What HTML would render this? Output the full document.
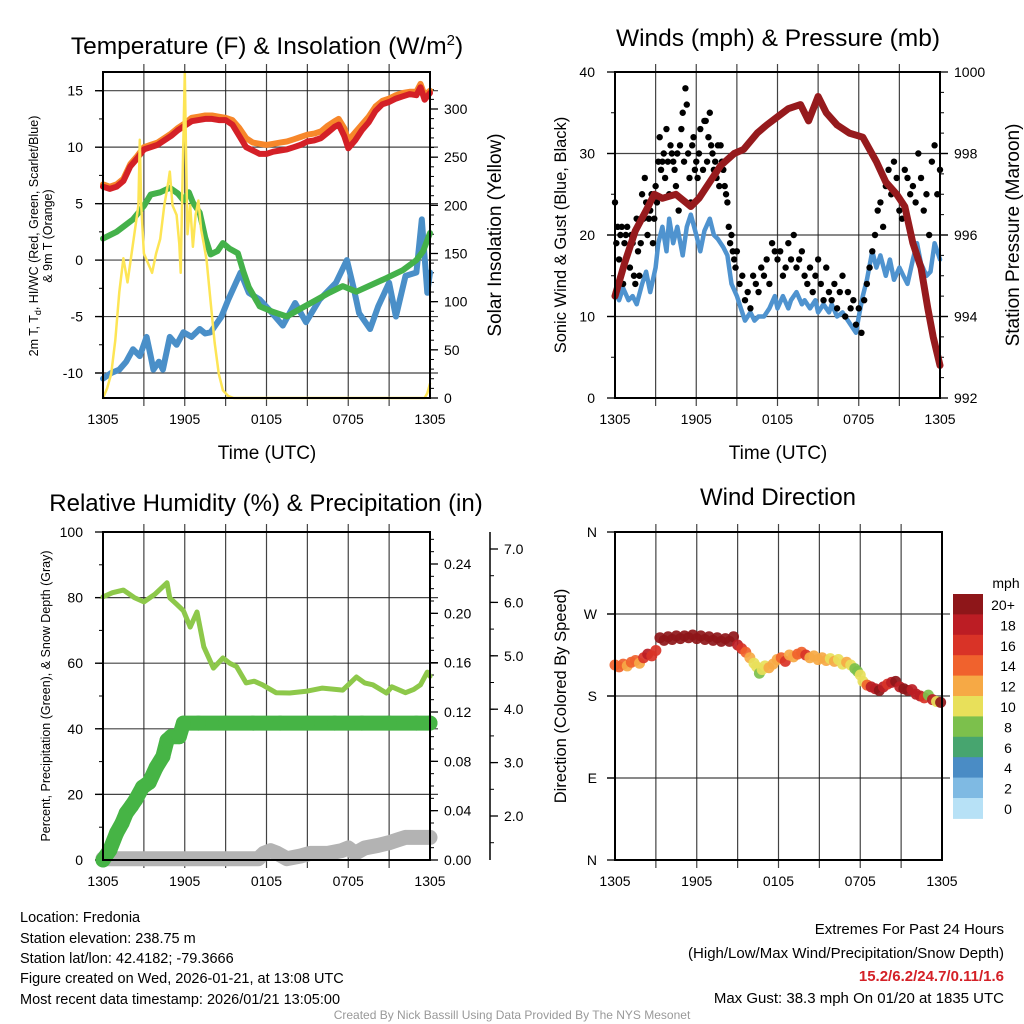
<!DOCTYPE html>
<html><head><meta charset="utf-8">
<style>
html,body{margin:0;padding:0;background:#fff;}
svg{display:block;font-family:"Liberation Sans",sans-serif;}
</style></head>
<body>
<svg id="chart" width="1024" height="1024" viewBox="0 0 1024 1024" xmlns="http://www.w3.org/2000/svg">
<rect x="0" y="0" width="1024" height="1024" fill="#fff"/>
<g id="layer"></g>
<text x="267" y="54" font-size="24.5" text-anchor="middle">Temperature (F) &amp; Insolation (W/m<tspan font-size="15" dy="-9">2</tspan><tspan dy="9">)</tspan></text>
<text x="778" y="46" font-size="24.5" text-anchor="middle">Winds (mph) &amp; Pressure (mb)</text>
<text x="266" y="511" font-size="24" text-anchor="middle">Relative Humidity (%) &amp; Precipitation (in)</text>
<text x="778" y="505" font-size="24" text-anchor="middle">Wind Direction</text>
<text x="267" y="459" font-size="19" text-anchor="middle">Time (UTC)</text>
<text x="778" y="459" font-size="19" text-anchor="middle">Time (UTC)</text>
<text font-size="12.5" text-anchor="middle" transform="translate(38,236) rotate(-90)">2m T, T<tspan font-size="9" dy="3">d</tspan><tspan dy="-3">, HI/WC (Red, Green, Scarlet/Blue)</tspan></text>
<text font-size="12.5" text-anchor="middle" transform="translate(52,236) rotate(-90)">&amp; 9m T (Orange)</text>
<text font-size="19" text-anchor="middle" transform="translate(501,235) rotate(-90)">Solar Insolation (Yellow)</text>
<text font-size="16.5" text-anchor="middle" transform="translate(566,235) rotate(-90)">Sonic Wind &amp; Gust (Blue, Black)</text>
<text font-size="19" text-anchor="middle" transform="translate(1019,235) rotate(-90)">Station Pressure (Maroon)</text>
<text font-size="12.5" text-anchor="middle" transform="translate(50,696) rotate(-90)">Percent, Precipitation (Green), &amp; Snow Depth (Gray)</text>
<text font-size="16.5" text-anchor="middle" transform="translate(566,696) rotate(-90)">Direction (Colored By Speed)</text>
<text x="1006" y="588" font-size="14" text-anchor="middle">mph</text>
<g font-size="14.5">
<text x="20" y="922">Location: Fredonia</text>
<text x="20" y="943">Station elevation: 238.75 m</text>
<text x="20" y="963">Station lat/lon: 42.4182; -79.3666</text>
<text x="20" y="983">Figure created on Wed, 2026-01-21, at 13:08 UTC</text>
<text x="20" y="1004">Most recent data timestamp: 2026/01/21 13:05:00</text>
</g>
<g font-size="15" text-anchor="end">
<text x="1004" y="934">Extremes For Past 24 Hours</text>
<text x="1004" y="958">(High/Low/Max Wind/Precipitation/Snow Depth)</text>
<text x="1004" y="981" fill="#d42027" font-weight="bold">15.2/6.2/24.7/0.11/1.6</text>
<text x="1004" y="1003">Max Gust: 38.3 mph On 01/20 at 1835 UTC</text>
</g>
<text x="512" y="1019" font-size="12" fill="#999" text-anchor="middle">Created By Nick Bassill Using Data Provided By The NYS Mesonet</text>
</svg>
<script>
// ---- data ----
const xTickLabels = ["1305","1905","0105","0705","1305"];
const tempTicks = [-10,-5,0,5,10,15];
const solarTicks = [0,50,100,150,200,250,300];
const windTicks = [0,10,20,30,40];
const presTicks = [992,994,996,998,1000];
const rhTicks = [0,20,40,60,80,100];
const precipTicks = [0.00,0.04,0.08,0.12,0.16,0.20,0.24];
const snowTicks = [2.0,3.0,4.0,5.0,6.0,7.0];
const dirTickLabels = ["N","E","S","W","N"];
const dirTickValues = [0,90,180,270,360];
const speedBins = ["0","2","4","6","8","10","12","14","16","18","20+"];

const t2Hours = [0,0.5,1,1.5,2,2.5,3,3.5,4,4.5,5,5.5,6,6.5,7,7.5,8,8.5,9,9.5,10,10.5,11,11.5,12,12.5,13,13.5,14,14.5,15,15.5,16,16.5,17,17.3,17.7,18,18.5,19,19.5,20,20.5,21,21.5,22,22.5,23,23.3,23.6,24];
const t2Values = [6.5,6.3,6.5,7.0,8.3,9.0,9.8,10.0,10.2,10.6,11.0,11.5,11.9,12.3,12.4,12.5,12.5,12.4,12.4,12.0,11.0,10.0,9.7,9.4,9.4,9.6,9.7,9.8,10.0,10.2,10.5,10.6,10.8,11.3,11.8,12.0,11.0,9.9,10.6,11.5,12.2,13.2,13.8,14.0,14.3,14.5,14.7,14.6,15.3,14.2,14.8];
const t9Values = [6.7,6.5,6.7,7.2,8.5,9.2,10.0,10.2,10.4,10.8,11.2,11.7,12.1,12.6,12.7,12.8,12.8,12.7,12.6,12.4,11.7,10.8,10.4,10.3,10.2,10.3,10.4,10.5,10.7,10.9,11.1,11.2,11.4,11.9,12.3,12.5,11.7,10.6,11.3,12.0,12.7,13.6,14.1,14.3,14.6,14.8,14.9,14.9,15.6,14.6,15.0];
const tdHours = [0,1,2.2,3,3.5,4.2,4.9,5.5,5.9,6.3,6.6,7.1,7.5,7.9,8.4,8.8,9.3,9.9,10.3,10.7,11.5,12.5,13.5,14.5,15.7,16.6,17.6,18.6,19.7,20.8,22,23,23.5,24];
const tdValues = [1.9,2.5,3.6,4.8,5.8,6.0,6.4,5.9,5.3,6.0,5.1,4.2,2.0,0.5,0.8,1.5,1.0,0.6,-1.0,-2.4,-4.1,-4.6,-5.0,-4.3,-3.5,-2.9,-2.3,-2.8,-2.2,-1.6,-0.9,0.0,0.8,2.4];
const wcHours = [0,0.6,1.2,1.7,2.2,2.7,3.2,3.5,3.7,4.1,4.4,4.9,5.4,5.9,6.5,7.1,7.5,7.9,8.7,9.2,10.1,10.7,11.5,12.2,13.2,14.1,14.9,15.9,17.1,17.9,18.4,18.8,19.6,20.2,21,21.5,22.2,23,23.4,23.8,24];
const wcValues = [-10.5,-10.0,-9.7,-9.0,-7.9,-8.5,-6.8,-8.5,-9.7,-9.0,-9.7,-6.8,-7.5,-6.4,-6.8,-6.1,-6.5,-6.4,-5.0,-3.5,-1.1,-2.9,-3.5,-4.4,-5.8,-3.8,-5.5,-3.5,-2.0,0.0,-2.5,-4.7,-6.1,-4.1,-2.0,-5.0,-1.4,-1.1,3.6,-2.9,-1.1];
const solarHours = [0,0.3,0.6,0.9,1.2,1.5,1.8,2.1,2.4,2.6,2.7,2.8,3.0,3.3,3.6,3.9,4.2,4.5,4.8,4.9,5.1,5.4,5.6,5.7,5.8,6.0,6.1,6.2,6.4,6.6,6.8,7.0,7.2,7.4,7.6,7.9,8.2,8.5,8.8,9.2,9.6,23.6,23.8,24];
const solarValues = [0,10,25,60,110,145,120,150,180,200,268,200,150,140,130,150,165,200,225,235,200,190,160,130,200,338,250,170,200,157,190,205,175,160,143,100,57,25,8,2,0,0,5,15];

const windHours = [0,0.3,0.6,1,1.3,1.6,2,2.3,2.6,3,3.2,3.5,3.8,4,4.3,4.6,5,5.3,5.6,6,6.3,6.6,7,7.3,7.6,8,8.3,8.6,9,9.3,9.6,10,10.3,10.6,11,11.4,11.8,12,12.4,12.8,13,13.4,13.8,14,14.4,14.8,15,15.4,15.8,16,16.4,16.8,17,17.4,17.8,18,18.3,18.6,19,19.3,19.6,20,20.3,20.6,21,21.3,21.6,22,22.3,22.6,23,23.3,23.6,24];
const windValues = [13,12,13.5,12,12.5,11.5,14,15.5,13,16,19,21,18,22,19,21,17.5,21,22.5,20,18,20.5,22,20,19.5,18.5,17.5,14,12.5,11,9.5,10.5,9.5,10,10,11,12.5,11,12.5,11,12,13,11.5,12,11,12,10.5,11.5,10.5,11.5,10,10.5,10,9,8,10,12.5,14.5,18,16,17.5,15,17,14.5,16,15,14,17,19,16.5,15,15.5,19,17];
const gustHours = [0,0.1,0.2,0.3,0.4,0.5,0.6,0.7,0.8,0.9,1.0,1.1,1.2,1.3,1.4,1.5,1.6,1.7,1.8,1.9,2.0,2.1,2.2,2.3,2.4,2.5,2.6,2.7,2.8,2.9,3.0,3.1,3.2,3.3,3.4,3.5,3.6,3.7,3.8,3.9,4.0,4.1,4.2,4.3,4.4,4.5,4.6,4.7,4.8,4.9,5.0,5.1,5.2,5.3,5.4,5.5,5.6,5.7,5.8,5.9,6.0,6.1,6.2,6.3,6.4,6.5,6.6,6.7,6.8,6.9,7.0,7.1,7.2,7.3,7.4,7.5,7.6,7.7,7.8,7.9,8.0,8.1,8.2,8.3,8.4,8.5,8.6,8.7,8.8,8.9,9.0,9.2,9.4,9.6,9.8,10.0,10.2,10.4,10.6,10.8,11.0,11.2,11.4,11.6,11.8,12.0,12.2,12.4,12.6,12.8,13.0,13.2,13.4,13.6,13.8,14.0,14.2,14.4,14.6,14.8,15.0,15.2,15.4,15.6,15.8,16.0,16.2,16.4,16.6,16.8,17.0,17.2,17.4,17.6,17.8,18.0,18.2,18.4,18.6,18.8,19.0,19.2,19.4,19.6,19.8,20.0,20.2,20.4,20.6,20.8,21.0,21.2,21.4,21.6,21.8,22.0,22.2,22.4,22.6,22.8,23.0,23.2,23.4,23.6,23.8,24.0];
const gustValues = [24,19,21,17,20,21,14,19,20,21,18,16,20,19,15,14,22,18,15,19,25,22,27,24,20,22,23,25,19,22,26,24,29,32,28,29,30,27,33,29,25,31,30,29,28,26,30,23,31,33,35,29,38,36,30,27,24,31,32,28,29,27,30,33,25,28,34,34,29,32,35,31,30,28,29,27,31,26,31,29,28,26,25,24,21,19,20,18,17,16,18,14,15,12,13,11,15,14,13,16,15,17,14,19,18,17,18,15,16,19,17,20,16,17,18,15,14,16,13,15,17,14,12,16,13,12,14,11,13,15,10,13,11,12,9,11,8,12,14,16,18,20,23,24,21,26,28,25,29,27,23,22,28,27,25,26,24,30,27,23,25,20,29,31,25,28];
const presHours = [0,0.7,1.5,2.3,2.9,3.5,4.5,5.6,6.2,7.0,7.8,8.8,9.5,10.5,11.2,12,12.8,13.7,14.3,15.0,15.6,16.4,17.3,18.3,19.3,20.0,20.8,21.4,22,22.6,23.1,23.5,24];
const presValues = [994.5,995.3,996.1,996.6,997.0,996.9,997.0,996.7,996.9,997.3,997.7,998.0,998.1,998.5,998.7,998.9,999.1,999.2,998.8,999.4,999.0,998.7,998.5,998.4,997.8,997.3,997.0,996.7,995.8,995.2,994.2,993.5,992.8];

const rhHours = [0,0.7,1.5,2.3,3,3.8,4.7,4.9,5.4,5.9,6.4,6.9,7.4,8.1,8.8,9.3,9.8,10.5,11.1,11.7,12.7,13.7,15,16.1,17.6,18.6,19.2,19.8,20.8,21.2,22.2,22.8,23.3,23.8,24];
const rhValues = [80.2,81.5,82.3,80,78.7,81,84.5,79.9,78,76,71,75.6,65,58.5,61.6,60,59,54,54.5,53.4,51,50.9,51.5,52.4,51.8,55.8,54,53.4,50.9,52.8,51,52,53.4,57.3,56];
const precipHours = [0,0.5,1,1.4,1.7,2.1,2.4,2.9,3.4,3.9,4.4,4.7,5.0,5.6,5.9,7,9,11,13,15,17,19,21,23,24];
const precipValues = [0,0.008,0.022,0.03,0.038,0.044,0.049,0.059,0.063,0.075,0.084,0.097,0.1,0.1,0.111,0.111,0.111,0.111,0.111,0.111,0.111,0.111,0.111,0.111,0.111];
const snowHours = [0,2,4,6,8,10,11.4,11.8,12.3,12.8,13.5,14.5,15.2,16.5,17.5,18.0,18.5,19.2,20.2,21,21.6,22.2,23,24];
const snowValues = [1.2,1.2,1.2,1.2,1.2,1.2,1.2,1.3,1.35,1.3,1.2,1.25,1.3,1.3,1.35,1.4,1.3,1.4,1.45,1.5,1.55,1.6,1.6,1.6];

const dirHours = [0,0.3,0.6,0.9,1.2,1.5,1.8,2.1,2.4,2.7,3.0,3.3,3.6,3.9,4.2,4.5,4.8,5.1,5.4,5.7,6.0,6.3,6.6,6.9,7.2,7.5,7.8,8.1,8.4,8.7,9.0,9.3,9.6,9.9,10.2,10.4,10.6,10.8,11.0,11.3,11.6,11.9,12.2,12.5,12.8,13.1,13.4,13.7,14.0,14.3,14.6,14.9,15.2,15.5,15.8,16.1,16.4,16.7,17.0,17.3,17.6,17.8,18.0,18.2,18.5,18.8,19.1,19.4,19.7,20.0,20.3,20.6,20.9,21.2,21.5,21.8,22.1,22.4,22.7,23.0,23.3,23.6,23.9];
const dirDegrees = [214,212,215,213,217,219,216,222,226,224,230,244,241,245,242,246,243,246,244,247,243,246,242,245,241,244,240,243,240,245,236,232,228,222,216,212,205,209,213,211,215,220,222,218,225,223,226,228,225,222,224,220,222,219,221,218,220,215,217,214,210,207,203,196,192,190,188,186,190,193,195,196,190,188,186,187,182,180,178,181,176,174,173];
const dirSpeeds = [13,14,13,12,13,14,12,16,17,16,15,20,20,20,20,20,20,20,20,20,20,20,20,20,20,20,20,20,20,20,17,15,13,12,10,10,8,10,10,11,12,11,13,15,11,12,14,13,15,12,12,11,11,12,10,11,10,10,11,9,7,7,9,10,14,17,18,19,18,16,18,19,18,20,19,18,17,18,16,7,18,10,19];
const speedColors = ["#b7e1f6","#7fbae3","#4a8cc5","#47a56f","#7cc04c","#e8e05a","#f6a945","#f0622d","#d93327","#bc1d24","#8e1619"];

// ---- helpers ----
const NS = "http://www.w3.org/2000/svg";
const layer = document.getElementById("layer");
function mk(tag, attrs, parent){ const e=document.createElementNS(NS,tag); for(const k in attrs) e.setAttribute(k,attrs[k]); (parent||layer).appendChild(e); return e; }
function lin(d0,d1,r0,r1){ return v => r0 + (v-d0)/(d1-d0)*(r1-r0); }
function pathD(hs,vs,fx,fy){ return hs.map((h,i)=>(i?"L":"M")+fx(h).toFixed(1)+","+fy(vs[i]).toFixed(1)).join(""); }

const P1={L:103,R:430,T:72,B:398}, P2={L:615,R:940,T:72,B:398}, P3={L:103,R:430,T:532,B:860}, P4={L:615,R:942,T:532,B:860};

function frame(P, name, hLines, fy){
  const g = mk("g",{});
  
  
  for(let h=3; h<24; h+=3){ const x=P.L+h/24*(P.R-P.L); mk("line",{x1:x,x2:x,y1:P.T-8,y2:P.B+8,stroke:"#222","stroke-width":1.2,"stroke-opacity":0.85},g); }
  hLines.forEach(v=>{ const y=fy(v); mk("line",{x1:P.L-8,x2:P.R+8,y1:y,y2:y,stroke:"#222","stroke-width":1.2,"stroke-opacity":0.85},g); });
  const xl = mk("g",{"font-size":14,"text-anchor":"middle"});
  
  
  xTickLabels.forEach((s,i)=>{ const t=mk("text",{x:P.L+i*6/24*(P.R-P.L),y:P.B+26},xl); t.textContent=s; });
}
function box(P,name){
  const r = mk("rect",{x:P.L,y:P.T,width:P.R-P.L,height:P.B-P.T,fill:"none",stroke:"#000","stroke-width":2});
  
  
}
function yAxis(x, side, ticks, fy, fmt, name, minorStep, dmin, dmax){
  const g = mk("g",{"font-size":14,"text-anchor":side<0?"end":"start"});
  
  
  ticks.forEach(v=>{ const y=fy(v); mk("line",{x1:x,x2:x+side*8,y1:y,y2:y,stroke:"#000","stroke-width":1.3},g);
    const t=mk("text",{x:x+side*(side<0?20:14),y:y+5},g); t.textContent=fmt(v); });
  if(minorStep){ for(let v=dmin; v<=dmax+1e-9; v+=minorStep){ const y=fy(v); mk("line",{x1:x,x2:x+side*4,y1:y,y2:y,stroke:"#000","stroke-width":1},g);} }
}
function line(hs,vs,fx,fy,color,w,name){
  const p = mk("path",{d:pathD(hs,vs,fx,fy),fill:"none",stroke:color,"stroke-width":w,"stroke-linejoin":"round","stroke-linecap":"round"});
  
  
  return p;
}

// ---- panel 1 ----
const x1 = lin(0,24,P1.L,P1.R), yT = lin(-10,15,373,90.7), yS = lin(0,300,398,109);
frame(P1,"temp",tempTicks,yT);
yAxis(P1.L,-1,tempTicks,yT,v=>String(v),"temp-y-axis",2.5,-10,15);
yAxis(P1.R,1,solarTicks,yS,v=>String(v),"solar-y-axis",10,0,320);
line(wcHours,wcValues,x1,yT,"#4a8fc8",6,"windchill-line");
line(tdHours,tdValues,x1,yT,"#44b14a",6,"dewpoint-line");
line(t2Hours,t9Values,x1,yT,"#f7872a",6,"temp-9m-line");
line(t2Hours,t2Values,x1,yT,"#d42027",6,"temp-2m-line");
line(solarHours,solarValues,x1,yS,"#fde555",2.5,"solar-line");
box(P1,"temp");

// ---- panel 2 ----
const x2 = lin(0,24,P2.L,P2.R), yW = lin(0,40,398,72), yP = lin(992,1000,398,72);
frame(P2,"wind",[10,20,30],yW);
yAxis(P2.L,-1,windTicks,yW,v=>String(v),"wind-y-axis",5,0,40);
yAxis(P2.R,1,presTicks,yP,v=>String(v),"pressure-y-axis",0.5,992,1000);
line(windHours,windValues,x2,yW,"#4f93cf",4.5,"wind-speed-line");
gustHours.forEach((h,i)=>{
  const c = mk("circle",{cx:x2(h),cy:yW(gustValues[i]),r:3.2,fill:"#000"});
  
  
});
line(presHours,presValues,x2,yP,"#961a1d",7,"pressure-line");
box(P2,"wind");

// ---- panel 3 ----
const x3 = lin(0,24,P3.L,P3.R), yR = lin(0,100,860,532), yPr = lin(0,0.24,860,564), ySn = lin(2,7,816,549);
frame(P3,"rh",[20,40,60,80],yR);
yAxis(P3.L,-1,rhTicks,yR,v=>String(v),"rh-y-axis",10,0,100);
yAxis(P3.R,1,precipTicks,yPr,v=>v.toFixed(2),"precip-y-axis",0.01,0,0.26);
const sp = mk("line",{x1:490,x2:490,y1:532,y2:860,stroke:"#000","stroke-width":1.5});


yAxis(490,1,snowTicks,ySn,v=>v.toFixed(1),"snow-y-axis",0.5,1.5,7.0);
line(snowHours,snowValues,x3,ySn,"#b3b3b3",15,"snow-depth-line");
line(precipHours,precipValues,x3,yPr,"#46b445",15,"precip-line");
precipHours.forEach((h,i)=>{
  const c = mk("circle",{cx:x3(h),cy:yPr(precipValues[i]),r:7.5,fill:"#46b445"});
  
  
});
line(rhHours,rhValues,x3,yR,"#8dc84a",5,"rh-line");
box(P3,"rh");

// ---- panel 4 ----
const x4 = lin(0,24,P4.L,P4.R), yD = lin(0,360,860,532);
frame(P4,"wdir",[90,180,270],yD);
const dg = mk("g",{"font-size":14,"text-anchor":"end"});


dirTickValues.forEach((v,i)=>{ const y=yD(v); mk("line",{x1:P4.L,x2:P4.L-8,y1:y,y2:y,stroke:"#000","stroke-width":1.3},dg);
  const t=mk("text",{x:P4.L-18,y:y+5},dg); t.textContent=dirTickLabels[i]; });
dirHours.forEach((h,i)=>{
  const idx = Math.min(10, Math.max(0, Math.round(dirSpeeds[i]/2)));
  const c = mk("circle",{cx:x4(h),cy:yD(dirDegrees[i]),r:5.5,fill:speedColors[idx],"fill-opacity":0.92});
  
  
});
box(P4,"wdir");

// colorbar
const cb = mk("g",{"font-size":14,"text-anchor":"middle"});


const cbTop=594, cbH=20.4;
for(let i=0;i<11;i++){
  const k = 10-i;
  const r = mk("rect",{x:953,y:cbTop+i*cbH,width:30,height:cbH+0.5,fill:speedColors[k]},cb);
  
  
  const t = mk("text",{x:k===10?1003:1008,y:cbTop+i*cbH+16},cb); t.textContent=speedBins[k];
}
</script>
</body></html>
